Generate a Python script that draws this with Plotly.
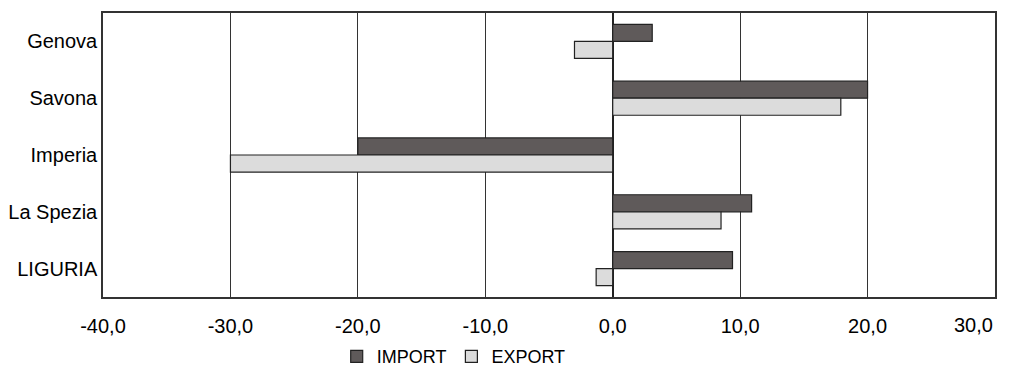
import plotly.graph_objects as go

categories = ["Genova", "Savona", "Imperia", "La Spezia", "LIGURIA"]
import_vals = [3.1, 20.0, -20.0, 10.9, 9.4]
export_vals = [-3.0, 17.9, -30.0, 8.5, -1.3]
tick_vals = [-40, -30, -20, -10, 0, 10, 20, 30]
tick_text = ["-40,0", "-30,0", "-20,0", "-10,0", "0,0", "10,0", "20,0", ""]
last_tick_label = "30,0"

fig = go.Figure()
fig.add_trace(go.Bar(
    y=categories, x=import_vals, orientation="h", name="IMPORT",
    marker=dict(color="#5f5a5a", line=dict(color="#222222", width=1.2)),
))
fig.add_trace(go.Bar(
    y=categories, x=export_vals, orientation="h", name="EXPORT",
    marker=dict(color="#dcdcdc", line=dict(color="#222222", width=1.2)),
))

fig.update_layout(
    width=1007, height=359,
    margin=dict(l=95, r=20, t=5, b=69.5, autoexpand=False),
    paper_bgcolor="white", plot_bgcolor="white",
    barmode="group", bargap=0.4, bargroupgap=0,
    separators=",.",
    font=dict(family="Liberation Sans, Arial, sans-serif", color="black", size=18),
    legend=dict(orientation="h", x=0.262, xanchor="left", y=-0.21, yanchor="middle",
                font=dict(size=18), itemwidth=30, bgcolor="rgba(0,0,0,0)"),
    showlegend=True,
)
fig.add_annotation(
    x=tick_vals[-1], xref="x", xanchor="right",
    y=-0.1, yref="paper", yanchor="middle",
    text=last_tick_label, showarrow=False,
    font=dict(size=20, color="black"),
)
fig.update_xaxes(
    range=[-40, 30], tickvals=tick_vals, ticktext=tick_text, automargin=False,
    ticklabeloverflow="allow",
    showgrid=True, gridcolor="#333333", gridwidth=1.3,
    zeroline=True, zerolinecolor="#222222", zerolinewidth=1.5,
    showline=True, linecolor="#333333", linewidth=1.5, mirror=True,
    tickfont=dict(size=20), ticklabelstandoff=10,
)
fig.update_yaxes(
    autorange="reversed", showgrid=False, automargin=False,
    showline=True, linecolor="#333333", linewidth=1.5, mirror=True,
    tickfont=dict(size=20), ticklabelstandoff=0,
)

fig.write_html("out.html")
